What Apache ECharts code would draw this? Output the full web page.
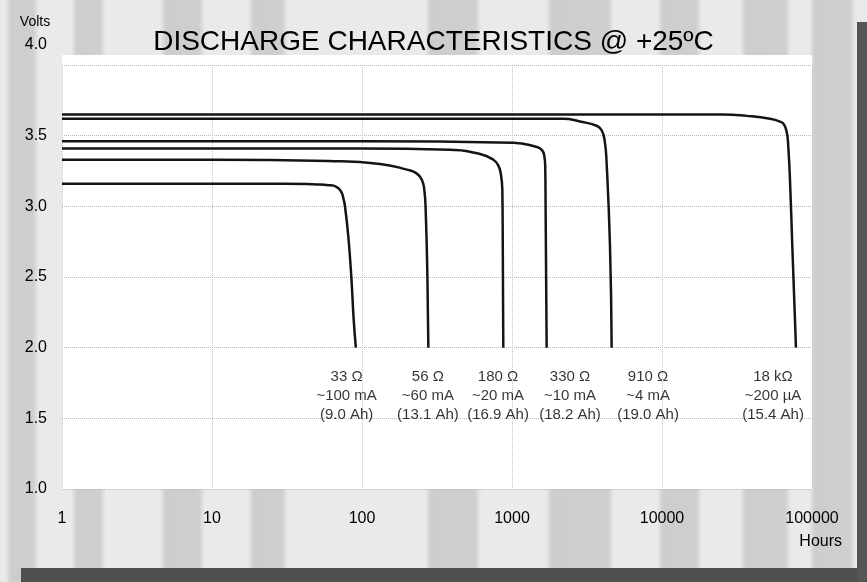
<!DOCTYPE html>
<html><head><meta charset="utf-8">
<script src="https://cdn.jsdelivr.net/npm/echarts/dist/echarts.min.js"></script>
<style>html,body{margin:0;padding:0;background:#fff}#c{width:867px;height:582px}</style>
</head><body><div id="c"></div>
<script>
// ---- data (hours, volts) ----
const xTicks = [1, 10, 100, 1000, 10000, 100000];
const yTicks = [1.0, 1.5, 2.0, 2.5, 3.0, 3.5, 4.0];
const curve33 = [[1,3.16],[10,3.16],[30,3.16],[50,3.155],[60,3.15],[67,3.14],[72,3.11],[75,3.06],[77,3.0],[81,2.79],[85,2.49],[88,2.2],[91,2.0]];
const curve56 = [[1,3.33],[10,3.33],[60,3.32],[132,3.30],[199,3.26],[230,3.235],[250,3.19],[260,3.12],[266,2.96],[273,2.49],[277,2.0]];
const curve180 = [[1,3.41],[10,3.41],[100,3.41],[386,3.40],[612,3.37],[751,3.33],[810,3.29],[845,3.22],[862,3.12],[868,2.72],[875,2.0]];
const curve330 = [[1,3.46],[10,3.46],[100,3.46],[1021,3.45],[1460,3.42],[1580,3.40],[1640,3.36],[1665,3.28],[1676,2.96],[1702,2.0]];
const curve910 = [[1,3.62],[10,3.62],[100,3.62],[1000,3.62],[2198,3.62],[2840,3.60],[3667,3.57],[3950,3.54],[4140,3.47],[4272,3.31],[4500,2.72],[4617,2.0]];
const curve18k = [[1,3.65],[10,3.65],[100,3.65],[1000,3.65],[10000,3.65],[25600,3.65],[36700,3.64],[52500,3.62],[61200,3.60],[65000,3.58],[68000,3.52],[69500,3.42],[71300,3.19],[73900,2.72],[78200,2.0]];
const resistors = ['33 Ω', '56 Ω', '180 Ω', '330 Ω', '910 Ω', '18 kΩ'];
const currents = ['~100 mA', '~60 mA', '~20 mA', '~10 mA', '~4 mA', '~200 µA'];
const capacities = ['(9.0 Ah)', '(13.1 Ah)', '(16.9 Ah)', '(18.2 Ah)', '(19.0 Ah)', '(15.4 Ah)'];
const labelHours = [79, 275, 807, 2436, 8070, 55000];
const labelVolts = [1.66, 1.66, 1.66, 1.66, 1.66, 1.66];
const curves = [curve33, curve56, curve180, curve330, curve910, curve18k];

// ---- background stripes (decoration) ----
const W = 867;
const stripes = [[11,33],[77,100],[166,199],[254,282],[431,475],[552,608],[663,696],[746,785],[815,850]];
const stops = [{offset:0, color:'#e8e8e8'}];
stripes.forEach(([a,b]) => {
  stops.push({offset:(a-6)/W, color:'#eaeaea'});
  stops.push({offset:a/W, color:'#cdcdcd'});
  stops.push({offset:b/W, color:'#cfcfcf'});
  stops.push({offset:(b+6)/W, color:'#eaeaea'});
});
stops.push({offset:1, color:'#e8e8e8'});

const chart = echarts.init(document.getElementById('c'));
const FONT = 'Liberation Sans, Arial, sans-serif';
const lineSeries = curves.map((d, i) => ({
  type: 'line', name: resistors[i], data: d, symbol: 'none',
  smooth: 0.5,
  lineStyle: {color: '#141414', width: 2.5}, z: 3
}));
const labelSeries = {
  type: 'scatter', symbolSize: 1, itemStyle: {color: 'rgba(0,0,0,0)'},
  data: labelHours.map((h, i) => [h, labelVolts[i], i]),
  label: {
    show: true, position: 'inside', fontFamily: FONT, fontSize: 15, lineHeight: 19, color: '#000',
    formatter: p => resistors[p.value[2]] + '\n' + currents[p.value[2]] + '\n' + capacities[p.value[2]]
  },
  silent: true, z: 4
};

chart.setOption({
  animation: false,
  backgroundColor: {type: 'linear', x: 0, y: 0, x2: 1, y2: 0, colorStops: stops},
  textStyle: {fontFamily: FONT},
  title: {
    text: 'DISCHARGE CHARACTERISTICS @ +25ºC', left: 'center', top: 28, padding: 0,
    textStyle: {fontFamily: FONT, fontSize: 28, fontWeight: 'normal', color: '#000'}
  },
  grid: {left: 62, right: 55, top: 65, bottom: 93, show: true, backgroundColor: '#ffffff', borderWidth: 0},
  xAxis: {
    type: 'log', logBase: 10, min: xTicks[0], max: xTicks[xTicks.length - 1],
    axisLine: {show: false}, axisTick: {show: false},
    axisLabel: {fontFamily: FONT, fontSize: 16, color: '#000', margin: 22, formatter: v => String(v)},
    splitLine: {show: true, lineStyle: {color: '#c4c4c4', type: 'dotted', width: 1}}
  },
  yAxis: {
    type: 'value', min: yTicks[0], max: yTicks[yTicks.length - 1], interval: 0.5,
    axisLine: {show: false}, axisTick: {show: false},
    axisLabel: {
      fontFamily: FONT, fontSize: 16, color: '#000', margin: 15,
      formatter: v => v === 4 ? '{top|4.0}' : v.toFixed(1),
      rich: {top: {fontFamily: FONT, fontSize: 16, color: '#000', padding: [0, 0, 40, 0]}}
    },
    splitLine: {show: true, lineStyle: {color: '#b8b8b8', type: 'dotted', width: 1}}
  },
  graphic: [
    {type: 'rect', shape: {x: 62, y: 55, width: 750, height: 10}, style: {fill: '#ffffff'}, z: -1, silent: true},
    {type: 'rect', shape: {x: 21, y: 568, width: 846, height: 14}, style: {fill: '#4f4f4f'}, silent: true},
    {type: 'rect', shape: {x: 857, y: 22, width: 10, height: 560}, style: {fill: '#555555'}, silent: true},
    {type: 'text', x: 35, y: 22, style: {text: 'Volts', font: '14px ' + FONT, fill: '#000', align: 'center', verticalAlign: 'middle'}},
    {type: 'text', x: 842, y: 542, style: {text: 'Hours', font: '16px ' + FONT, fill: '#000', align: 'right', verticalAlign: 'middle'}}
  ],
  series: [...lineSeries, labelSeries]
});
</script></body></html>
